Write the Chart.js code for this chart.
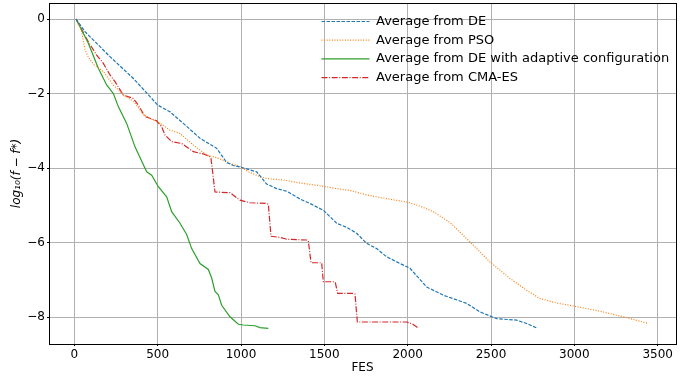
<!DOCTYPE html>
<html>
<head>
<meta charset="utf-8">
<script src="https://cdn.jsdelivr.net/npm/chart.js@4"></script>
<style>
  html, body { margin: 0; padding: 0; background: #ffffff; }
  #wrap { width: 686px; height: 377px; position: relative; }
</style>
</head>
<body>
<div id="wrap"><canvas id="c" width="686" height="377"></canvas></div>
<script>
// ---- data ----
const seriesNames = [
  'Average from DE',
  'Average from PSO',
  'Average from DE with adaptive configuration',
  'Average from CMA-ES'
];
const xTicks = [0, 500, 1000, 1500, 2000, 2500, 3000, 3500];
const yTicks = [0, -2, -4, -6, -8];

const deX = [10, 64, 214, 353, 454, 500, 574, 654, 754, 854, 914, 954, 994, 1094, 1154, 1214, 1274, 1354, 1414, 1494, 1574, 1634, 1694, 1754, 1814, 1874, 1954, 2014, 2114, 2214, 2354, 2434, 2534, 2654, 2714, 2780];
const deY = [0, -0.34, -1.01, -1.59, -2.08, -2.31, -2.49, -2.80, -3.20, -3.47, -3.85, -3.93, -3.97, -4.10, -4.43, -4.55, -4.62, -4.83, -4.95, -5.13, -5.48, -5.59, -5.75, -6.02, -6.16, -6.38, -6.56, -6.69, -7.19, -7.41, -7.63, -7.86, -8.04, -8.08, -8.17, -8.30];

const psoX = [10, 44, 64, 84, 114, 174, 234, 294, 353, 413, 454, 514, 574, 634, 714, 794, 854, 934, 994, 1054, 1114, 1154, 1254, 1354, 1454, 1574, 1654, 1754, 1874, 1994, 2074, 2154, 2254, 2374, 2494, 2614, 2714, 2794, 2894, 2994, 3154, 3294, 3444];
const psoY = [0, -0.34, -0.83, -1.02, -1.21, -1.41, -1.77, -2.04, -2.20, -2.55, -2.67, -2.80, -2.98, -3.07, -3.38, -3.65, -3.72, -3.87, -3.96, -4.12, -4.23, -4.28, -4.32, -4.40, -4.46, -4.55, -4.60, -4.72, -4.82, -4.91, -5.02, -5.17, -5.46, -5.98, -6.52, -6.96, -7.28, -7.50, -7.62, -7.70, -7.84, -7.99, -8.17];

const adaX = [10, 84, 144, 194, 234, 264, 314, 364, 434, 464, 504, 554, 584, 634, 674, 704, 754, 804, 824, 844, 864, 884, 934, 984, 1014, 1084, 1114, 1164];
const adaY = [0, -0.65, -1.32, -1.77, -2.00, -2.35, -2.80, -3.43, -4.10, -4.19, -4.50, -4.77, -5.17, -5.48, -5.78, -6.16, -6.56, -6.72, -6.95, -7.31, -7.40, -7.68, -7.99, -8.19, -8.21, -8.23, -8.28, -8.30];

const cmaX = [10, 84, 134, 174, 214, 244, 294, 354, 384, 424, 494, 524, 544, 584, 644, 714, 774, 810, 820, 844, 934, 994, 1054, 1154, 1164, 1180, 1234, 1274, 1394, 1404, 1420, 1484, 1494, 1554, 1566, 1580, 1674, 1684, 1698, 1994, 2024, 2060];
const cmaY = [0, -0.61, -0.97, -1.19, -1.50, -1.68, -2.04, -2.13, -2.31, -2.62, -2.73, -2.89, -3.11, -3.29, -3.34, -3.56, -3.62, -3.68, -3.74, -4.64, -4.66, -4.86, -4.93, -4.95, -4.97, -5.83, -5.86, -5.91, -5.93, -5.95, -6.54, -6.54, -7.05, -7.05, -7.07, -7.36, -7.36, -7.38, -8.13, -8.13, -8.17, -8.28];

const seriesColors = ['#1f77b4', '#ff7f0e', '#2ca02c', '#d62728'];
const seriesDashes = [[3.5, 1.5], [1, 1.6], [], [6, 1.6, 1, 1.6]];

// ---- build ----
function pts(xs, ys) { return xs.map((x, i) => ({ x: x, y: ys[i] })); }
const allX = [deX, psoX, adaX, cmaX];
const allY = [deY, psoY, adaY, cmaY];

Chart.defaults.font.family = "'DejaVu Sans', sans-serif";
Chart.defaults.font.size = 12;
Chart.defaults.color = '#000';

const datasets = seriesNames.map((name, i) => ({
  label: name,
  data: pts(allX[i], allY[i]),
  borderColor: seriesColors[i],
  backgroundColor: seriesColors[i],
  borderWidth: 1.2,
  borderDash: seriesDashes[i],
  pointRadius: 0,
  tension: 0,
  fill: false
}));

const framePlugin = {
  id: 'frame',
  beforeDraw(chart) {
    const ctx = chart.ctx;
    ctx.save();
    ctx.fillStyle = '#ffffff';
    ctx.fillRect(0, 0, chart.width, chart.height);
    ctx.restore();
  },
  afterLayout(chart) {
    if (chart.legend) {
      chart.legend.left = 315.8;
      chart.legend.top = 9.3;
    }
  },
  afterDatasetsDraw(chart) {
    const a = chart.chartArea;
    const ctx = chart.ctx;
    ctx.save();
    ctx.strokeStyle = '#000';
    ctx.lineWidth = 1;
    ctx.strokeRect(Math.round(a.left) + 0.5, Math.round(a.top) + 0.5,
                   Math.round(a.right) - Math.round(a.left), Math.round(a.bottom) - Math.round(a.top));
    ctx.restore();
  }
};

new Chart(document.getElementById('c'), {
  type: 'line',
  data: { datasets: datasets },
  plugins: [framePlugin],
  options: {
    responsive: false,
    animation: false,
    layout: { padding: { left: 0, right: 10, top: 3, bottom: 0 } },
    plugins: {
      legend: {
        position: 'chartArea',
        align: 'start',
        labels: {
          usePointStyle: true,
          pointStyle: 'line',
          pointStyleWidth: 48,
          boxHeight: 12,
          padding: 5.7,
          color: '#000',
          font: { size: 13 },
          generateLabels(chart) {
            return chart.data.datasets.map((ds, i) => ({
              text: ds.label,
              datasetIndex: i,
              hidden: !chart.isDatasetVisible(i),
              fillStyle: ds.borderColor,
              strokeStyle: ds.borderColor,
              lineWidth: ds.borderWidth,
              lineDash: ds.borderDash,
              lineCap: 'butt',
              pointStyle: 'line',
              fontColor: '#000'
            }));
          }
        }
      },
      tooltip: { enabled: false }
    },
    scales: {
      x: {
        type: 'linear',
        min: -152,
        max: 3610,
        afterBuildTicks(scale) { scale.ticks = xTicks.map(v => ({ value: v })); },
        afterFit(scale) { scale.height = 33; scale.paddingLeft = 0; scale.paddingRight = 0; },
        ticks: {
          padding: 2,
          color: '#000',
          font: { size: 12 },
          callback: v => String(v),
          maxRotation: 0
        },
        grid: { color: '#b0b0b0', lineWidth: 1, drawTicks: true, tickLength: 2, tickColor: '#000', tickWidth: 1 },
        border: { display: true, color: '#000', width: 1 },
        title: { display: true, text: 'FES', color: '#000', font: { size: 12 }, padding: { top: 0, bottom: 2 } }
      },
      y: {
        type: 'linear',
        min: -8.72,
        max: 0.43,
        afterBuildTicks(scale) { scale.ticks = yTicks.slice().reverse().map(v => ({ value: v })); },
        afterFit(scale) { scale.width = 49; scale.paddingTop = 0; scale.paddingBottom = 0; },
        ticks: {
          padding: 2,
          color: '#000',
          font: { size: 12 },
          callback: v => (v < 0 ? '\u2212' + Math.abs(v) : String(v))
        },
        grid: { color: '#b0b0b0', lineWidth: 1, drawTicks: true, tickLength: 2, tickColor: '#000', tickWidth: 1 },
        border: { display: true, color: '#000', width: 1 },
        title: { display: true, text: 'log\u2081\u2080(f \u2212 f*)', color: '#000', font: { size: 12, style: 'italic' }, padding: { top: 10, bottom: 0 } }
      }
    }
  }
});
</script>
</body>
</html>
